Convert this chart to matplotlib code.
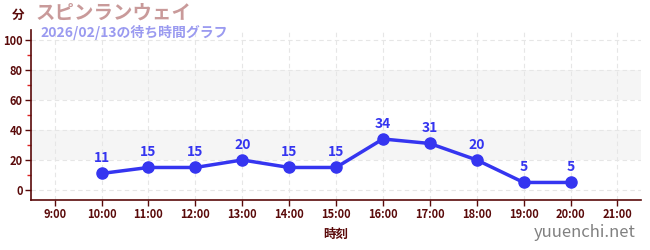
import matplotlib
matplotlib.use("Agg")
import matplotlib.pyplot as plt
from matplotlib.ticker import FixedLocator

plt.rcParams['font.family'] = ['Noto Sans CJK JP', 'DejaVu Sans']

# data
hours = [10, 11, 12, 13, 14, 15, 16, 17, 18, 19, 20]
waits = [11, 15, 15, 20, 15, 15, 34, 31, 20, 5, 5]
tick_hours = list(range(9, 22))
tick_labels = [f"{h}:00" for h in tick_hours]

title = "スピンランウェイ"
subtitle = "2026/02/13の待ち時間グラフ"

axis_col = "#5a0a0a"
line_col = "#3535f0"

fig = plt.figure(figsize=(6.5, 2.5), dpi=100)
ax = fig.add_axes([0.048, 0.2, 0.938, 0.68])

# shaded bands
for lo, hi in [(20, 40), (60, 80)]:
    ax.axhspan(lo, hi, color="#f5f5f5", zorder=0, lw=0)

ax.plot(hours, waits, color=line_col, lw=2.5, marker="o", markersize=8, zorder=3)
for h, w in zip(hours, waits):
    ax.annotate(str(w), (h, w), xytext=(0, 6), textcoords="offset points",
                ha="center", va="bottom", color=line_col, fontsize=10, fontweight="bold")

ax.set_xlim(8.5, 21.5)
ax.set_ylim(-6.7, 106.7)
ax.xaxis.set_major_locator(FixedLocator(tick_hours))
ax.set_xticklabels(tick_labels)
ax.yaxis.set_major_locator(FixedLocator([0, 20, 40, 60, 80, 100]))
ax.yaxis.set_minor_locator(FixedLocator([10, 30, 50, 70, 90]))

ax.grid(True, which="major", color="#e6e6e6", ls=(0, (4, 3)), lw=0.8, zorder=1)
ax.set_axisbelow(True)

for s in ["top", "right"]:
    ax.spines[s].set_visible(False)
for s in ["left", "bottom"]:
    ax.spines[s].set_color(axis_col)
    ax.spines[s].set_linewidth(1.2)

ax.tick_params(axis="both", which="major", colors=axis_col, labelsize=8, length=4, width=1, pad=2)
ax.tick_params(axis="y", which="minor", colors="#dd2222", length=3, width=1)
for lbl in ax.get_xticklabels() + ax.get_yticklabels():
    lbl.set_fontweight("bold")

ax.set_xlabel("時刻", color=axis_col, fontsize=9, fontweight="bold", labelpad=5)

fig.text(0.018, 0.94, "分", color=axis_col, fontsize=9, fontweight="bold", va="center")
fig.text(0.055, 0.948, title, color="#c99a9a", fontsize=14, fontweight="bold", va="center")
fig.text(0.062, 0.87, subtitle, color="#9a9af0", fontsize=10, fontweight="bold", va="center")
fig.text(0.978, 0.07, "yuuenchi.net", color="#808080", fontsize=12, ha="right", va="center")

fig.savefig("out.png", dpi=100)
